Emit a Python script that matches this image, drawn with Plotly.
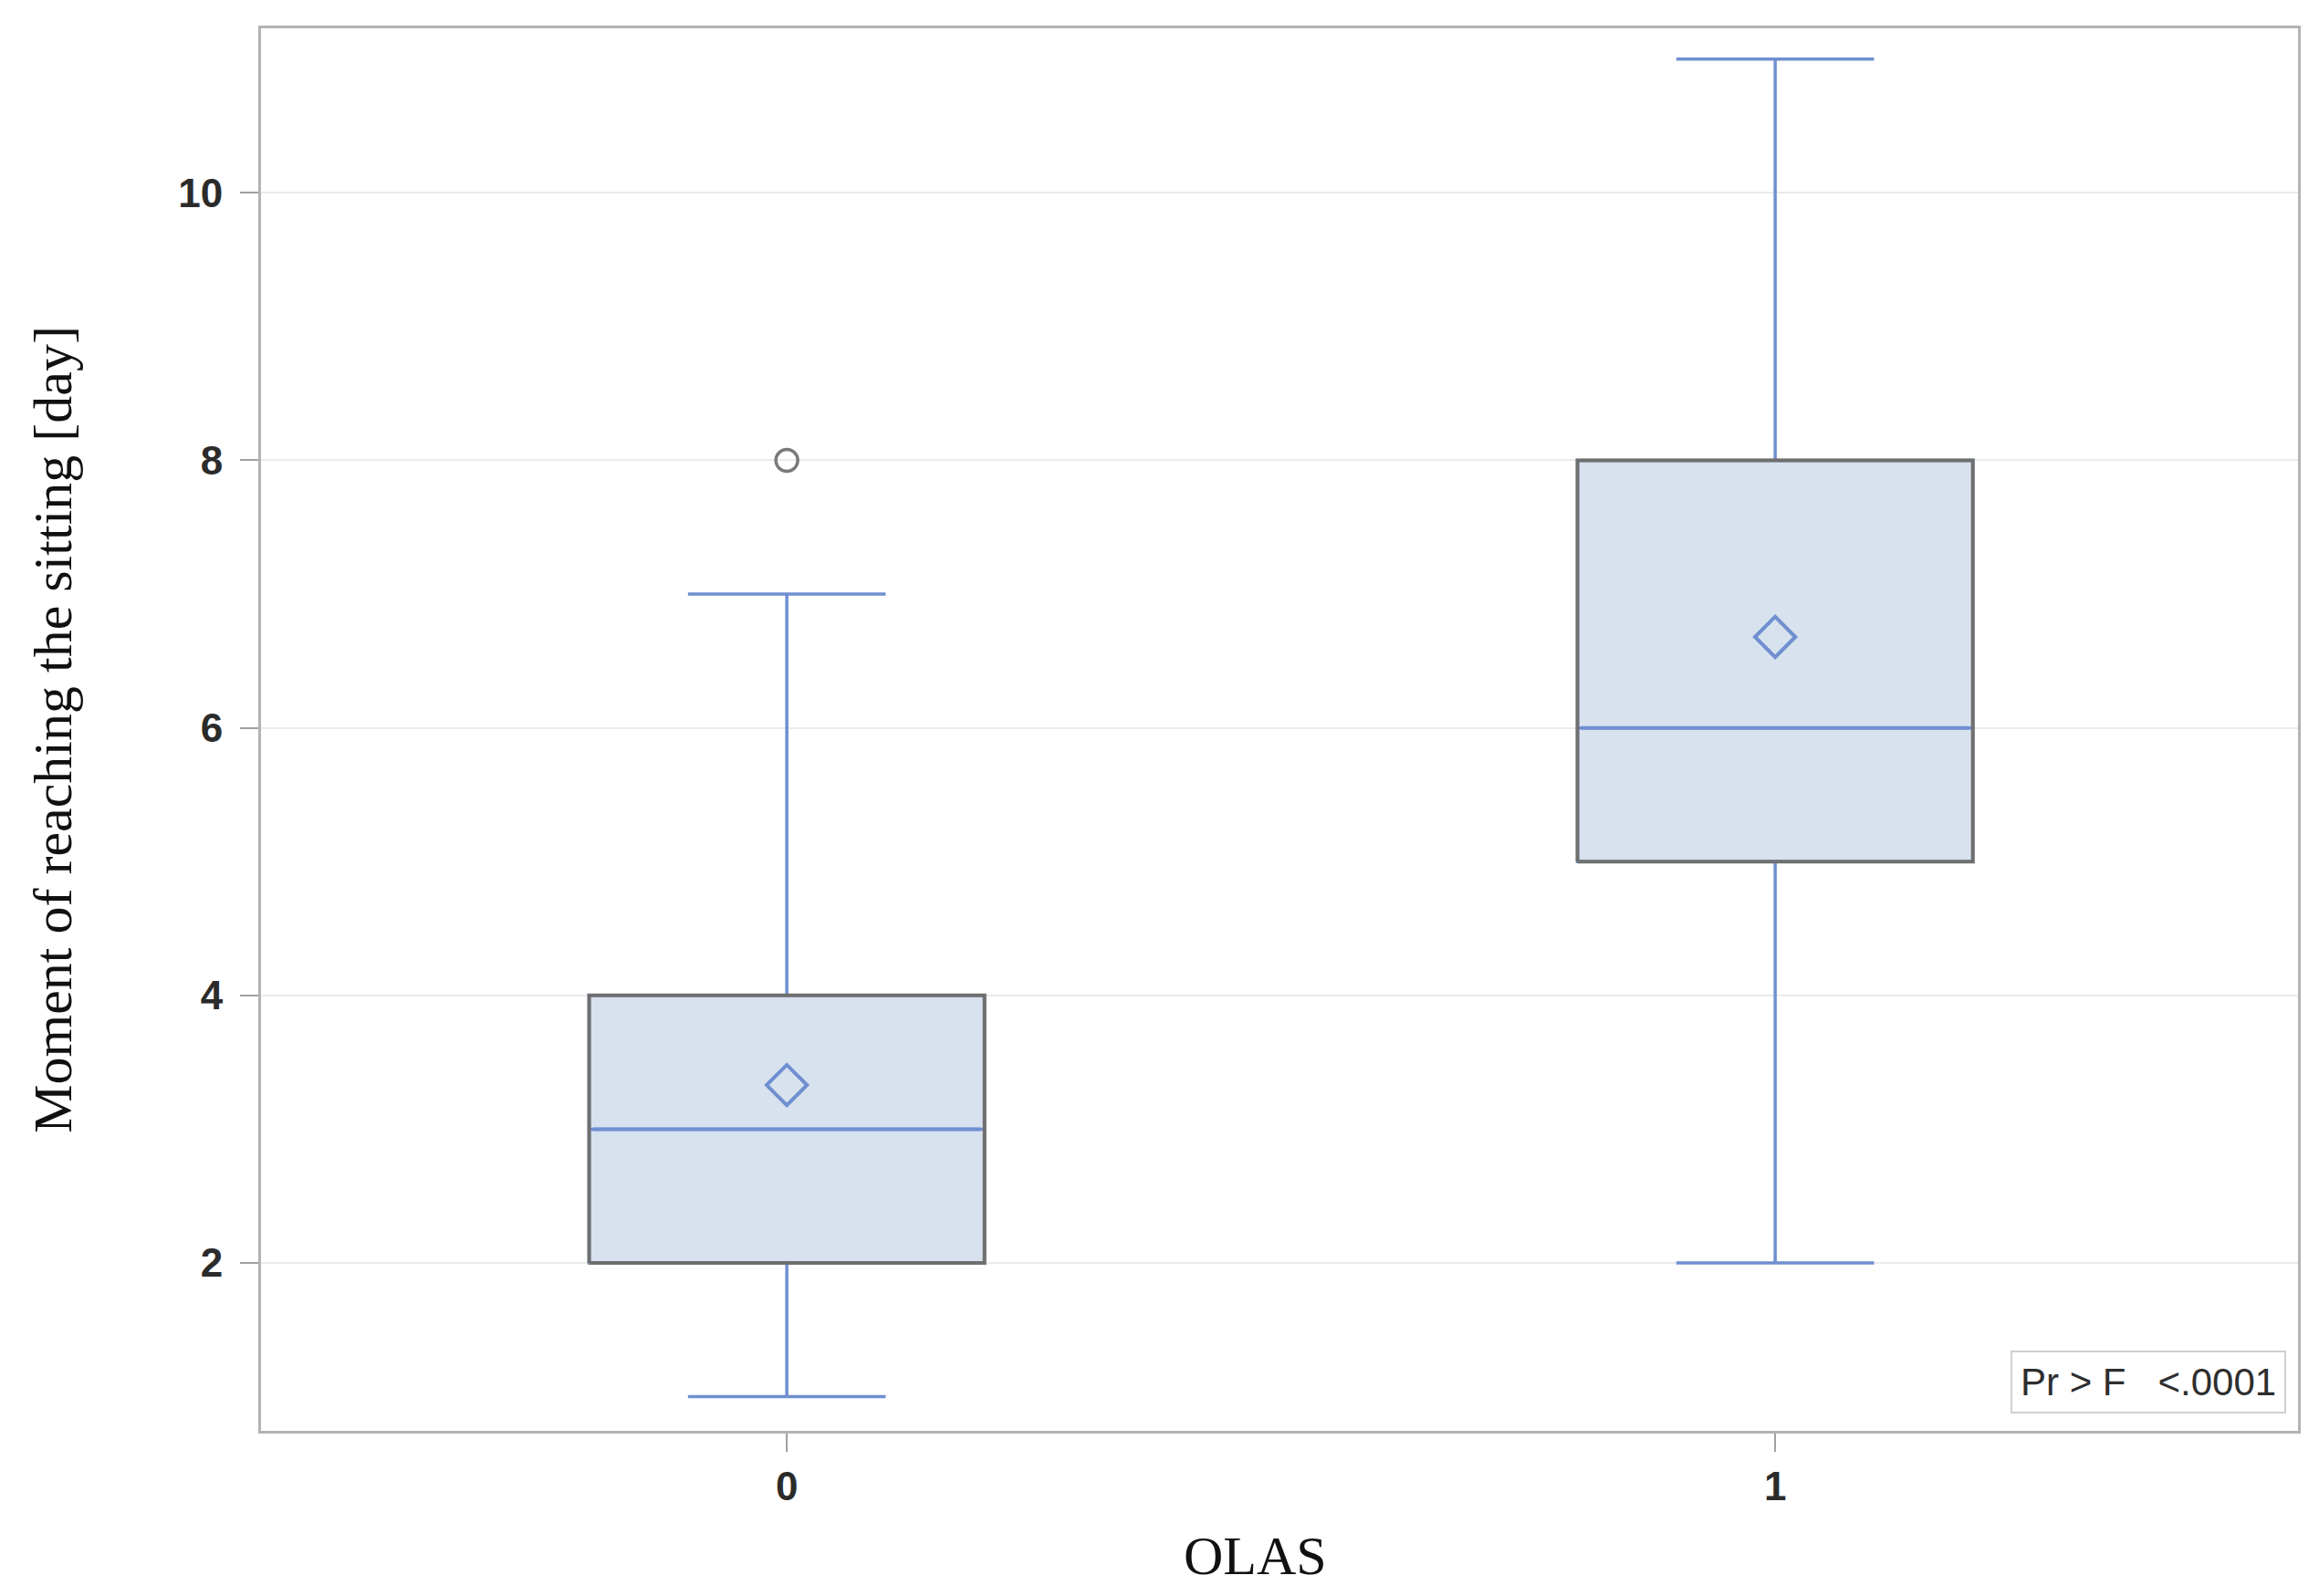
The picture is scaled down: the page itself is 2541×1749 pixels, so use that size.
import plotly.graph_objects as go

# ---- data ----
categories = [0, 1]
tick_labels = ["0", "1"]
q1 = [2, 5]
median = [3, 6]
q3 = [4, 8]
lower_whisker = [1, 2]
upper_whisker = [7, 11]
means = [3.33, 6.68]
outlier_x = [0]
outlier_y = [8]
y_ticks = [2, 4, 6, 8, 10]
x_title = "OLAS"
y_title = "Moment of reaching the sitting [day]"
p_text = "Pr &gt; F&nbsp;&nbsp;&nbsp;&lt;.0001"

# ---- styles ----
BOX_W = 0.4
FILL = "#d7e2ee"
BLUE = "#6f8fd0"
GRAY = "#6f6f6f"

fig = go.Figure()

fig.add_trace(go.Box(
    x=categories, q1=q1, median=median, q3=q3,
    lowerfence=lower_whisker, upperfence=upper_whisker,
    width=BOX_W, whiskerwidth=0.5,
    fillcolor=FILL, line=dict(color=BLUE, width=3.5),
    showlegend=False, hoverinfo="skip",
))

# gray outline of boxes
for c, a, b in zip(categories, q1, q3):
    fig.add_trace(go.Scatter(
        x=[c - BOX_W / 2, c + BOX_W / 2, c + BOX_W / 2, c - BOX_W / 2, c - BOX_W / 2],
        y=[a, a, b, b, a], mode="lines",
        line=dict(color=GRAY, width=4), showlegend=False, hoverinfo="skip",
    ))
# median redrawn on top
for c, m in zip(categories, median):
    fig.add_trace(go.Scatter(
        x=[c - BOX_W / 2 + 0.004, c + BOX_W / 2 - 0.004], y=[m, m], mode="lines",
        line=dict(color=BLUE, width=4), showlegend=False, hoverinfo="skip",
    ))

fig.add_trace(go.Scatter(
    x=categories, y=means, mode="markers",
    marker=dict(symbol="diamond-open", size=34, color=BLUE, line=dict(width=4, color=BLUE)),
    showlegend=False, hoverinfo="skip",
))
fig.add_trace(go.Scatter(
    x=outlier_x, y=outlier_y, mode="markers",
    marker=dict(symbol="circle-open", size=24, color="#7a7a7a", line=dict(width=3.5, color="#7a7a7a")),
    showlegend=False, hoverinfo="skip",
))

fig.add_annotation(
    text=p_text, xref="paper", yref="paper", x=0.994, y=0.0124,
    xanchor="right", yanchor="bottom", showarrow=False,
    font=dict(family="Liberation Sans", size=42, color="#2e2e2e"),
    bordercolor="#d0d0d0", borderwidth=2, borderpad=9, bgcolor="white",
)
# x-axis title (slightly left of centre, as in the reference)
fig.add_annotation(
    text=x_title, xref="paper", yref="paper", x=0.488, y=-0.089,
    xanchor="center", yanchor="middle", showarrow=False,
    font=dict(family="Liberation Serif", size=60, color="#111111"),
)

fig.update_layout(
    width=2541, height=1749,
    paper_bgcolor="white", plot_bgcolor="white",
    margin=dict(l=278, r=31, t=23, b=189),
    xaxis=dict(
        type="linear", range=[-0.532, 1.529],
        tickvals=categories, ticktext=tick_labels,
        showgrid=False, zeroline=False,
        showline=True, linecolor="#b3b3b3", linewidth=3, mirror=True,
        ticks="outside", ticklen=20, tickwidth=2, tickcolor="#a0a0a0",
        ticklabelstandoff=0,
        tickfont=dict(family="Liberation Sans", size=44, color="#2b2b2b", weight="bold"),
    ),
    yaxis=dict(
        range=[0.745, 11.23], tickvals=y_ticks,
        showgrid=True, gridcolor="#ebebeb", gridwidth=2, zeroline=False,
        showline=True, linecolor="#b3b3b3", linewidth=3, mirror=True,
        ticks="outside", ticklen=20, tickwidth=2, tickcolor="#a0a0a0",
        ticklabelstandoff=10,
        tickfont=dict(family="Liberation Sans", size=44, color="#2b2b2b", weight="bold"),
        title=dict(text=y_title,
                   font=dict(family="Liberation Serif", size=60, color="#111111"), standoff=98),
    ),
)

fig.write_html("out.html")
